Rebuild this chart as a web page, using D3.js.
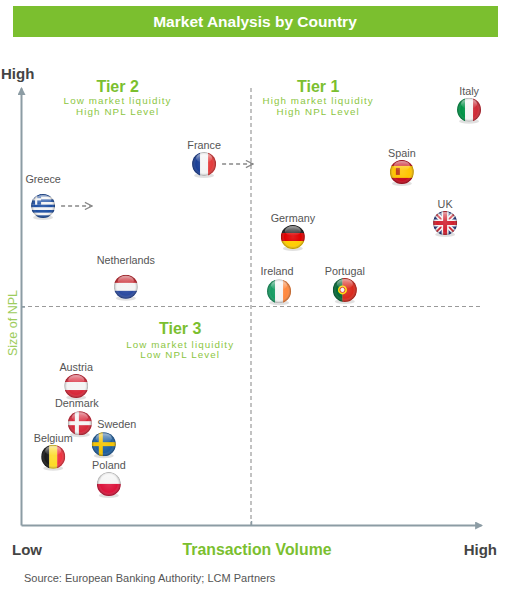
<!DOCTYPE html>
<html>
<head>
<meta charset="utf-8">
<script src="https://cdn.jsdelivr.net/npm/d3@7"></script>
<style>
  body { margin: 0; background: #fff; }
  svg { font-family: "Liberation Sans", Arial, Helvetica, sans-serif; }
</style>
</head>
<body>
<svg id="chart"></svg>
<script>
// Countries, placed on transaction volume (x) and size of NPL (y), both 0-100
const countries = ["Italy", "France", "Spain", "Greece", "UK", "Germany", "Netherlands",
                   "Ireland", "Portugal", "Austria", "Denmark", "Sweden", "Belgium", "Poland"];
const volume  = [97.4, 39.8, 82.8, 4.8, 92.2, 59.1, 22.8, 56.1, 70.4, 12.0, 12.8, 18.0, 7.0, 19.1];
const nplSize = [95.0, 82.6, 80.8, 73.0, 69.1, 65.9, 54.5, 53.5, 53.8, 31.8, 23.3, 18.5, 15.6, 9.4];
// countries shown moving to a higher tier
const movers = ["Greece", "France"];

const tierNames = ["Tier 2", "Tier 1", "Tier 3"];
const tierLines = [["Low market liquidity", "High NPL Level"],
                   ["High market liquidity", "High NPL Level"],
                   ["Low market liquidity", "Low NPL Level"]];
const tierSplit = 50;

const data = countries.map((c, i) => ({ name: c, vol: volume[i], npl: nplSize[i] }));

const width = 517, height = 600;
const svg = d3.select("#chart").attr("width", width).attr("height", height);

const x = d3.scaleLinear().domain([0, 100]).range([21, 481]);
const y = d3.scaleLinear().domain([0, 100]).range([525, 88]);

const green = "#7bbf2f";
const axisColor = "#8c9ca4";

const defs = svg.append("defs");

// arrow heads
defs.append("marker")
    .attr("id", "axisArrow")
    .attr("viewBox", "0 0 10 10").attr("refX", 8).attr("refY", 5)
    .attr("markerWidth", 4).attr("markerHeight", 4).attr("orient", "auto")
  .append("path").attr("d", "M0,0L10,5L0,10Z").attr("fill", axisColor);

defs.append("marker")
    .attr("id", "moveArrow")
    .attr("viewBox", "0 0 10 10").attr("refX", 9).attr("refY", 5)
    .attr("markerWidth", 9).attr("markerHeight", 9).attr("markerUnits", "userSpaceOnUse")
    .attr("orient", "auto")
  .append("path").attr("d", "M1,1L9,5L1,9").attr("fill", "none")
    .attr("stroke", "#888").attr("stroke-width", 1.4);

// glossy shading for the flag balls
const gloss = defs.append("radialGradient").attr("id", "gloss")
    .attr("cx", "50%").attr("cy", "50%").attr("r", "50%");
gloss.append("stop").attr("offset", "0%").attr("stop-color", "#fff").attr("stop-opacity", 0.12);
gloss.append("stop").attr("offset", "70%").attr("stop-color", "#fff").attr("stop-opacity", 0);
gloss.append("stop").attr("offset", "100%").attr("stop-color", "#000").attr("stop-opacity", 0.35);

const shine = defs.append("linearGradient").attr("id", "shine")
    .attr("x1", 0).attr("y1", 0).attr("x2", 0).attr("y2", 1);
shine.append("stop").attr("offset", "0%").attr("stop-color", "#fff").attr("stop-opacity", 0.55);
shine.append("stop").attr("offset", "100%").attr("stop-color", "#fff").attr("stop-opacity", 0);

const R = 12;
defs.append("clipPath").attr("id", "ball")
  .append("circle").attr("r", R);

// Title bar
svg.append("rect")
    .attr("x", 13).attr("y", 6).attr("width", 485).attr("height", 31)
    .attr("fill", green);
svg.append("text")
    .attr("x", 255).attr("y", 26.5)
    .attr("text-anchor", "middle")
    .attr("fill", "#fff").attr("font-weight", "bold").attr("font-size", 15.5)
    .text("Market Analysis by Country");

// Quadrant dividers
svg.append("line")
    .attr("x1", x(tierSplit)).attr("x2", x(tierSplit))
    .attr("y1", y(100)).attr("y2", y(0))
    .attr("stroke", "#9a9a9a").attr("stroke-width", 1.2).attr("stroke-dasharray", "4,3");
svg.append("line")
    .attr("x1", x(0)).attr("x2", x(100))
    .attr("y1", y(tierSplit)).attr("y2", y(tierSplit))
    .attr("stroke", "#9a9a9a").attr("stroke-width", 1.2).attr("stroke-dasharray", "4,3");

// Axes: only the domain line and one tick at the tier split
const xAxis = svg.append("g")
    .attr("transform", `translate(0,${y(0)})`)
    .call(d3.axisBottom(x).tickValues([tierSplit]).tickSizeInner(-4).tickSizeOuter(0).tickFormat(""));
const yAxis = svg.append("g")
    .attr("transform", `translate(${x(0)},0)`)
    .call(d3.axisLeft(y).tickValues([tierSplit]).tickSizeInner(-4).tickSizeOuter(0).tickFormat(""));
[xAxis, yAxis].forEach(g => {
  g.select(".domain").attr("stroke", axisColor).attr("stroke-width", 2)
    .attr("marker-end", "url(#axisArrow)");
  g.selectAll(".tick line").attr("stroke", axisColor).attr("stroke-width", 1.5);
});

// Axis end labels
const endLabel = (tx, ty, t, anchor) => svg.append("text")
    .attr("x", tx).attr("y", ty).attr("text-anchor", anchor)
    .attr("font-weight", "bold").attr("font-size", 15).attr("fill", "#444")
    .text(t);
endLabel(1, 79, "High", "start");
endLabel(12, 555, "Low", "start");
endLabel(497, 555, "High", "end");

svg.append("text")
    .attr("x", 257).attr("y", 555).attr("text-anchor", "middle")
    .attr("font-weight", "bold").attr("font-size", 15.8).attr("fill", green)
    .text("Transaction Volume");

svg.append("text")
    .attr("transform", "translate(17,323) rotate(-90)")
    .attr("text-anchor", "middle")
    .attr("font-size", 12.5).attr("fill", "#9dcc5c")
    .text("Size of NPL");

svg.append("text")
    .attr("x", 24).attr("y", 582)
    .attr("font-size", 11).attr("fill", "#555")
    .text("Source: European Banking Authority; LCM Partners");

// Tier labels, centred in their quadrant area
const tierPos = [[21, 100], [64.6, 100], [34.6, tierSplit]];
tierNames.forEach((t, i) => {
  const g = svg.append("g")
      .attr("transform", `translate(${x(tierPos[i][0])},${y(tierPos[i][1])})`)
      .attr("text-anchor", "middle");
  g.append("text").attr("y", i === 2 ? 27 : 4)
      .attr("font-weight", "bold").attr("font-size", 16).attr("fill", green).text(t);
  tierLines[i].forEach((l, j) => {
    g.append("text").attr("y", (i === 2 ? 41 : 16) + j * 10.5)
        .attr("font-size", 9.8).attr("letter-spacing", 1.1)
        .attr("fill", "#8cc63f").text(l);
  });
});

// Flag painters, drawn in a square of side 2R centred on 0,0
function stripes(g, dir, cols, weights) {
  weights = weights || cols.map(() => 1);
  const tot = d3.sum(weights);
  let pos = -R;
  cols.forEach((c, i) => {
    const s = weights[i] / tot * 2 * R;
    if (dir === "v") g.append("rect").attr("x", pos).attr("y", -R).attr("width", s + 0.3).attr("height", 2 * R).attr("fill", c);
    else g.append("rect").attr("x", -R).attr("y", pos).attr("width", 2 * R).attr("height", s + 0.3).attr("fill", c);
    pos += s;
  });
}
function nordic(g, bg, cross) {
  g.append("rect").attr("x", -R).attr("y", -R).attr("width", 2 * R).attr("height", 2 * R).attr("fill", bg);
  g.append("rect").attr("x", -5).attr("y", -R).attr("width", 4).attr("height", 2 * R).attr("fill", cross);
  g.append("rect").attr("x", -R).attr("y", -2).attr("width", 2 * R).attr("height", 4).attr("fill", cross);
}
const flags = {
  Italy: g => stripes(g, "v", ["#009246", "#f4f4f4", "#ce2b37"]),
  France: g => stripes(g, "v", ["#1a3f96", "#f4f4f4", "#e43b3b"]),
  Ireland: g => stripes(g, "v", ["#169b62", "#f4f4f4", "#ff883e"]),
  Belgium: g => stripes(g, "v", ["#1a1a1a", "#fdda24", "#ef3340"]),
  Germany: g => stripes(g, "h", ["#1a1a1a", "#dd0000", "#ffce00"]),
  Netherlands: g => stripes(g, "h", ["#c8232c", "#f4f4f4", "#2a4aa0"]),
  Austria: g => stripes(g, "h", ["#d8283a", "#f4f4f4", "#d8283a"]),
  Poland: g => stripes(g, "h", ["#f4f4f4", "#dc143c"]),
  Spain: g => {
    stripes(g, "h", ["#c60b1e", "#ffc400", "#c60b1e"], [1, 2, 1]);
    g.append("rect").attr("x", -6).attr("y", -4).attr("width", 4).attr("height", 7).attr("fill", "#ad1519").attr("opacity", 0.8);
  },
  Portugal: g => {
    stripes(g, "v", ["#046a38", "#da291c"], [2, 3]);
    g.append("circle").attr("cx", -2.4).attr("r", 4.5).attr("fill", "#ffe000");
    g.append("circle").attr("cx", -2.4).attr("r", 2.6).attr("fill", "#f4f4f4").attr("stroke", "#da291c").attr("stroke-width", 1);
  },
  Denmark: g => nordic(g, "#d7283b", "#f4f4f4"),
  Sweden: g => nordic(g, "#1f5fa0", "#f5c400"),
  Greece: g => {
    stripes(g, "h", d3.range(9).map(i => i % 2 ? "#f4f4f4" : "#1d4fa3"));
    g.append("rect").attr("x", -R).attr("y", -R).attr("width", 10).attr("height", 10.7).attr("fill", "#1d4fa3");
    g.append("rect").attr("x", -R + 4).attr("y", -R).attr("width", 2.2).attr("height", 10.7).attr("fill", "#f4f4f4");
    g.append("rect").attr("x", -R).attr("y", -R + 4.2).attr("width", 10).attr("height", 2.2).attr("fill", "#f4f4f4");
  },
  UK: g => {
    g.append("rect").attr("x", -R).attr("y", -R).attr("width", 2 * R).attr("height", 2 * R).attr("fill", "#1c2f7a");
    const diag = "M-12,-12L12,12M12,-12L-12,12";
    g.append("path").attr("d", diag).attr("stroke", "#f4f4f4").attr("stroke-width", 5);
    g.append("path").attr("d", diag).attr("stroke", "#d0202e").attr("stroke-width", 1.8);
    const cross = "M0,-12V12M-12,0H12";
    g.append("path").attr("d", cross).attr("stroke", "#f4f4f4").attr("stroke-width", 7);
    g.append("path").attr("d", cross).attr("stroke", "#d0202e").attr("stroke-width", 4);
  }
};

// label nudges where the original sets a name away from the default spot
const labelNudge = { Greece: [0, -8], Netherlands: [0, -8], Sweden: [13, -1], Ireland: [-2, -1], Denmark: [-3, -1] };

// movement arrows
svg.selectAll(".mover")
  .data(data.filter(d => movers.includes(d.name)))
  .join("line")
    .attr("class", "mover")
    .attr("x1", d => x(d.vol) + R + 6).attr("x2", d => x(d.vol) + R + 37)
    .attr("y1", d => y(d.npl)).attr("y2", d => y(d.npl))
    .attr("stroke", "#888").attr("stroke-width", 1.4).attr("stroke-dasharray", "4,3")
    .attr("marker-end", "url(#moveArrow)");

const nodes = svg.selectAll(".country")
  .data(data)
  .join("g")
    .attr("class", "country")
    .attr("transform", d => `translate(${x(d.vol)},${y(d.npl)})`);

nodes.append("ellipse")
    .attr("cy", R - 0.5).attr("rx", R - 2).attr("ry", 2.5)
    .attr("fill", "#000").attr("opacity", 0.12);

nodes.each(function(d) {
  const f = d3.select(this).append("g").attr("clip-path", "url(#ball)");
  flags[d.name](f);
  f.append("circle").attr("r", R).attr("fill", "url(#gloss)");
  f.append("ellipse").attr("cy", -6).attr("rx", 8).attr("ry", 5).attr("fill", "url(#shine)");
});

nodes.append("text")
    .attr("x", d => (labelNudge[d.name] || [0, 0])[0])
    .attr("y", d => -15 + (labelNudge[d.name] || [0, 0])[1])
    .attr("text-anchor", "middle")
    .attr("font-size", 10.8).attr("fill", "#555")
    .text(d => d.name);
</script>
</body>
</html>
